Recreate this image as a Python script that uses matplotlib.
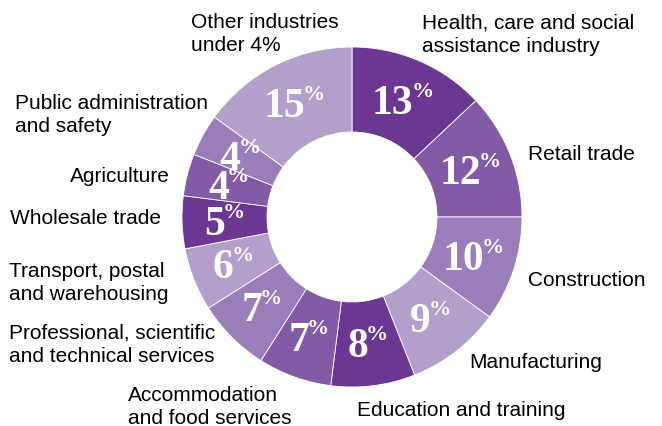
import numpy as np
import matplotlib
matplotlib.use("Agg")
import matplotlib.pyplot as plt

# data, clockwise from 12 o'clock
industries = ["Health, care and social\nassistance industry", "Retail trade",
              "Construction", "Manufacturing", "Education and training",
              "Accommodation\nand food services",
              "Professional, scientific\nand technical services",
              "Transport, postal\nand warehousing", "Wholesale trade",
              "Agriculture", "Public administration\nand safety",
              "Other industries\nunder 4%"]
shares = [13, 12, 10, 9, 8, 7, 7, 6, 5, 4, 4, 15]
colours = ["#6c3793", "#825aa6", "#9b7db9", "#b29fcb"] * 3

# where the outside labels go (pixels from top-left, left edge / middle)
label_pos = [(422, 35), (528, 155), (528, 280), (469, 362), (357, 410),
             (128, 407), (9, 345), (9, 283), (10, 218), (70, 177),
             (15, 115), (191, 34)]

W, H = 662, 426
fig = plt.figure(figsize=(W / 100, H / 100), dpi=100)
ax = fig.add_axes([0, 0, 1, 1])

cx, cy, R, ring = 352, H - 217, 170, 85
ax.pie(shares, colors=colours, radius=R, center=(cx, cy), startangle=90,
       counterclock=False,
       wedgeprops=dict(width=ring, edgecolor="white", linewidth=0.6))
ax.set_xlim(0, W)
ax.set_ylim(0, H)
ax.set_aspect("equal")
ax.axis("off")

renderer = fig.canvas.get_renderer()
serif = "Liberation Serif"
cum = 0
for s in shares:
    ang = np.deg2rad(90 - 360 * (cum + s / 2) / 100)
    cum += s
    rm = R - ring / 2
    px, py = cx + rm * np.cos(ang), cy + rm * np.sin(ang)
    num = ax.text(0, 0, str(s), fontsize=30, fontweight="bold", family=serif,
                  color="white", ha="left", va="baseline")
    pct = ax.text(0, 0, "%", fontsize=16, fontweight="bold", family=serif,
                  color="white", ha="left", va="baseline")
    wn = num.get_window_extent(renderer).width
    wp = pct.get_window_extent(renderer).width
    left = px - (wn + wp - 2) / 2
    num.set_position((left, py - 14))
    pct.set_position((left + wn - 2, py + 3))

for lab, (lx, ly) in zip(industries, label_pos):
    ax.text(lx, H - ly, lab, fontsize=15, family="Liberation Sans",
            color="black", ha="left", va="center", linespacing=1.3)

fig.savefig("out.png", dpi=100)
